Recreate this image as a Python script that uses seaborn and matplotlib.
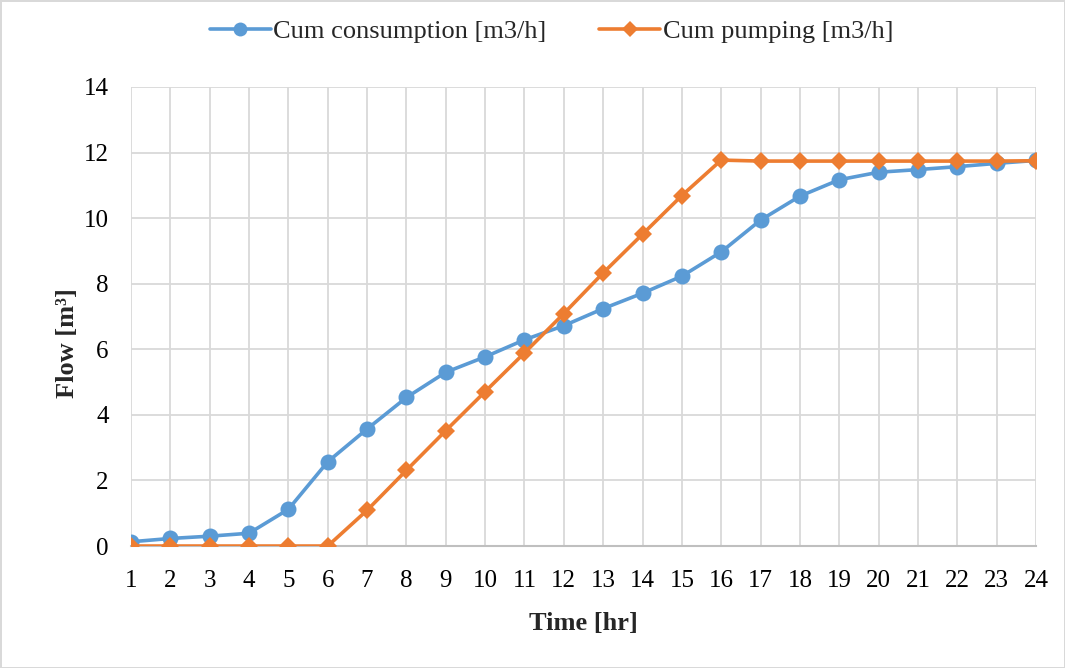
import matplotlib
matplotlib.use("Agg")
import matplotlib.pyplot as plt
import seaborn as sns
import pandas as pd
from matplotlib.lines import Line2D

hours = list(range(1, 25))
cum_consumption = [0.13, 0.23, 0.30, 0.39, 1.12, 2.57, 3.57, 4.53, 5.30, 5.77,
                   6.29, 6.72, 7.24, 7.71, 8.23, 8.97, 9.94, 10.67, 11.17, 11.40,
                   11.48, 11.57, 11.67, 11.76]
cum_pumping = [0.0, 0.0, 0.0, 0.0, 0.0, 0.0, 1.09, 2.31, 3.52, 4.71,
               5.89, 7.09, 8.33, 9.51, 10.69, 11.77, 11.74, 11.74, 11.74, 11.74,
               11.74, 11.74, 11.74, 11.75]
series_names = ["Cum consumption [m3/h]", "Cum pumping [m3/h]"]
y_ticks = [0, 2, 4, 6, 8, 10, 12, 14]

BLUE = "#5B9BD5"
ORANGE = "#ED7D31"

sns.set_theme(style="white")
plt.rcParams["font.family"] = ["Liberation Serif", "DejaVu Serif"]

df = pd.DataFrame({
    "hour": hours * 2,
    "value": cum_consumption + cum_pumping,
    "series": [series_names[0]] * 24 + [series_names[1]] * 24,
})

fig = plt.figure(figsize=(10.65, 6.68), dpi=100)
fig.patch.set_facecolor("white")
fig.patch.set_edgecolor("#d9d9d9")
fig.patch.set_linewidth(2)
ax = fig.add_axes([0.123, 0.1826, 0.8498, 0.6872])

sns.lineplot(data=df, x="hour", y="value", hue="series", style="series",
             palette={series_names[0]: BLUE, series_names[1]: ORANGE},
             markers={series_names[0]: "o", series_names[1]: "D"},
             dashes=False, linewidth=2.6, markeredgewidth=0,
             ax=ax, legend=False, zorder=3)
for line, ms in zip(ax.lines, [11.5, 9]):
    line.set_markersize(ms)

ax.set_xlim(1, 24)
ax.set_ylim(0, 14)
ax.set_xticks(hours)
ax.set_xticklabels([str(h) for h in hours])
ax.set_yticks(y_ticks)
ax.grid(True, color="#d9d9d9", linewidth=1.3)
ax.set_axisbelow(True)
for s in ["top", "right", "left"]:
    ax.spines[s].set_visible(False)
ax.spines["bottom"].set_color("#bfbfbf")
ax.spines["bottom"].set_linewidth(1.5)
ax.tick_params(axis="both", labelsize=18, length=0, colors="black")
ax.tick_params(axis="x", pad=17)
ax.tick_params(axis="y", pad=16)

ax.set_xlabel("Time [hr]", fontsize=19, fontweight="bold", labelpad=15)
ax.set_ylabel("Flow [m³]", fontsize=19, fontweight="bold")
ax.yaxis.set_label_coords(-0.058, 0.442)

handles = [
    Line2D([0], [0], color=BLUE, marker="o", markersize=10, linewidth=2.6, markeredgewidth=0),
    Line2D([0], [0], color=ORANGE, marker="D", markersize=8, linewidth=2.6, markeredgewidth=0),
]
fig.legend(handles, series_names, loc="center", bbox_to_anchor=(0.518, 0.953),
           ncol=2, frameon=False, fontsize=19, handlelength=2.3,
           handletextpad=0.1, columnspacing=2.0)

fig.savefig("out.png", dpi=100, facecolor=fig.get_facecolor(), edgecolor=fig.get_edgecolor())
